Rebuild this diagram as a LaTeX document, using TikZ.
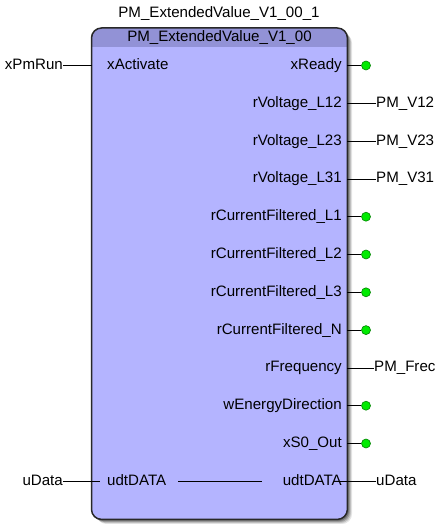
\documentclass[tikz,border=0pt]{standalone}
\usepackage{fontspec}
\setmainfont{Liberation Sans}
\definecolor{fbbody}{RGB}{180,180,255}
\definecolor{fbhead}{RGB}{146,146,214}
\definecolor{fbborder}{RGB}{40,40,40}
\definecolor{pinG}{RGB}{0,235,0}
\definecolor{pinGd}{RGB}{0,130,0}
\begin{document}
\begin{tikzpicture}[x=1pt,y=-1pt,
  font=\fontsize{15.1}{16}\selectfont,
  lbl/.style={inner sep=0pt, text height=10.8pt, text depth=3pt},
  wire/.style={draw=black, line width=0.8pt},
  okdot/.style={circle, fill=pinG, draw=pinGd, line width=0.6pt, minimum size=9pt, inner sep=0pt}]
\useasboundingbox (0,0) rectangle (437,524);
% shadow
\foreach \o/\op in {5/0.10,4/0.15,3/0.2,2/0.25}
  \fill[black,opacity=\op,rounded corners=10pt] (91.5+\o,28+\o) rectangle (347+\o,519+\o);
% block
\node[fill=fbbody, rounded corners=10pt, minimum width=255.5pt, minimum height=491pt,
      anchor=north west, inner sep=0pt] (fb) at (91.5,28) {};
\begin{scope}
  \clip[rounded corners=10pt] (fb.north west) rectangle (fb.south east);
  \fill[fbhead] (fb.north west) rectangle ([yshift=-19pt]fb.north east);
\end{scope}
\draw[draw=fbborder, line width=1.5pt, rounded corners=10pt] (fb.north west) rectangle (fb.south east);
% titles
\node[lbl] (inst) at (219,14) {PM\_ExtendedValue\_V1\_00\_1};
\node[lbl] (type) at (219.5,37.5) {PM\_ExtendedValue\_V1\_00};
% left pins
\node[lbl, anchor=west] (iAct) at (107,65.5) {xActivate};
\node[lbl, anchor=west] (iUdt) at (107,481.3) {udtDATA};
\coordinate (pAct) at (91.5,65.5);
\coordinate (pUdt) at (100,481.3);
\node[lbl, anchor=east] (vRun) at (63,65.5) {xPmRun};
\node[lbl, anchor=east] (vUdL) at (63,481.3) {uData};
\draw[wire] (vRun.east) -- (pAct);
\draw[wire] (vUdL.east) -- (pUdt);
% right pins
\node[lbl, anchor=east] (o1) at (342,65.5) {xReady};
\node[lbl, anchor=east] (o2) at (342,103.3) {rVoltage\_L12};
\node[lbl, anchor=east] (o3) at (342,141.1) {rVoltage\_L23};
\node[lbl, anchor=east] (o4) at (342,178.9) {rVoltage\_L31};
\node[lbl, anchor=east] (o5) at (342,216.7) {rCurrentFiltered\_L1};
\node[lbl, anchor=east] (o6) at (342,254.5) {rCurrentFiltered\_L2};
\node[lbl, anchor=east] (o7) at (342,292.3) {rCurrentFiltered\_L3};
\node[lbl, anchor=east] (o8) at (342,330.1) {rCurrentFiltered\_N};
\node[lbl, anchor=east] (o9) at (342,367.9) {rFrequency};
\node[lbl, anchor=east] (o10) at (342,405.7) {wEnergyDirection};
\node[lbl, anchor=east] (o11) at (342,443.5) {xS0\_Out};
\node[lbl, anchor=east] (o12) at (342,481.3) {udtDATA};
\foreach \i/\y in {1/65.5,2/103.3,3/141.1,4/178.9,5/216.7,6/254.5,7/292.3,8/330.1,9/367.9,10/405.7,11/443.5,12/481.3}
  \coordinate (q\i) at (347,\y);
% outputs with green dots
\foreach \i/\y in {1/65.5,5/216.7,6/254.5,7/292.3,8/330.1,10/405.7,11/443.5}{
  \node[okdot] (d\i) at (366,\y) {};
  \draw[wire] (q\i) -- (d\i.west);
}
% outputs with variables
\node[lbl, anchor=west] (v2) at (376,103.3) {PM\_V12};
\node[lbl, anchor=west] (v3) at (376,141.1) {PM\_V23};
\node[lbl, anchor=west] (v4) at (376,178.9) {PM\_V31};
\node[lbl, anchor=west] (v9) at (374,367.9) {PM\_Frec};
\node[lbl, anchor=west] (v12) at (376,481.3) {uData};
\draw[wire] (q2) -- (v2.west);
\draw[wire] (q3) -- (v3.west);
\draw[wire] (q4) -- (v4.west);
\draw[wire] (q9) -- (v9.west);
\draw[wire] ([xshift=-4pt]o12.east) -- (v12.west);
% internal pass-through
\draw[wire] ([xshift=12pt]iUdt.east) -- ([xshift=-21pt]o12.west);
\end{tikzpicture}
\end{document}
